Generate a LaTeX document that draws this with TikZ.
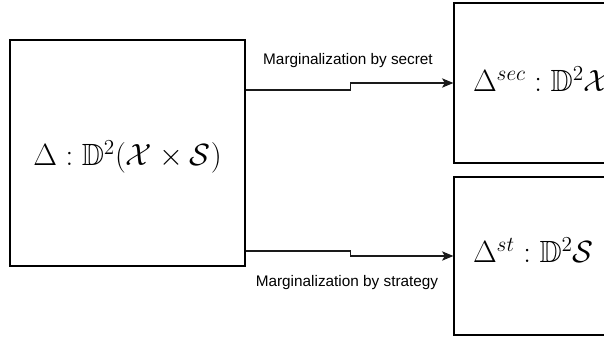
\documentclass[tikz,border=0pt]{standalone}
\usepackage{amsmath,amssymb}
\usepackage{fontspec}
\setsansfont{Liberation Sans}
\usetikzlibrary{positioning,arrows.meta}
\definecolor{margLine}{HTML}{1A1A1A}
\newcommand{\distmath}[1]{\scalebox{1.11}{$#1$}}

\begin{document}
\begin{tikzpicture}[x=0.75pt, y=-0.75pt,
  every node/.style={font=\fontsize{20.74}{25}\selectfont},
  distbox/.style={draw, line width=0.9pt, inner sep=0pt},
  margarrow/.style={-{Stealth[length=8.5pt, width=7pt, inset=2pt]}, line width=0.9pt, color=margLine},
  marglabel/.style={font=\sffamily\fontsize{11.5}{13}\selectfont, inner sep=0pt, anchor=base}]
  \useasboundingbox (0,0) rectangle (604,338);
  \clip (0,0) rectangle (604,338);

  \node[distbox, minimum width=176.25pt, minimum height=169.5pt, text height=22pt, text depth=2.5pt] (joint) at (127.5,153) {\distmath{\Delta : \mathbb{D}^2(\mathcal{X} \times \mathcal{S})}};
  \node[distbox, minimum height=120pt, text width=106.5pt, inner xsep=14.25pt, align=left, text height=17pt, text depth=3.5pt] (sec) at (544,83) {\distmath{\Delta^{sec} : \mathbb{D}^2\mathcal{X}}};
  \node[distbox, minimum height=118.5pt, text width=106.5pt, inner xsep=14.25pt, align=left, text height=15pt, text depth=4.5pt] (st) at (544,256) {\distmath{\Delta^{st} : \mathbb{D}^2\mathcal{S}}};

  \node[marglabel] (seclabel) at (348,65) {Marginalization by secret};
  \node[marglabel] (stlabel) at (347,287) {Marginalization by strategy};

  \draw[margarrow] ([yshift=47.25pt]joint.east) -- ++(78.75pt,0) |- (sec.west);
  \draw[margarrow] ([yshift=-73.5pt]joint.east) -- ++(78.75pt,0) |- (st.west);
\end{tikzpicture}
\end{document}
